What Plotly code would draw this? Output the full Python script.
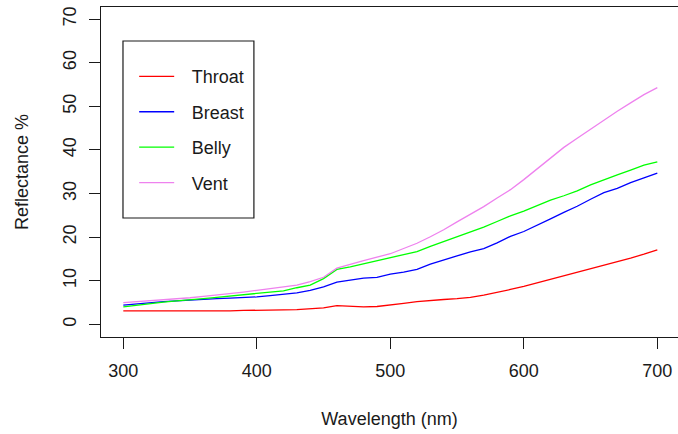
import plotly.graph_objects as go

wavelength = list(range(300, 701, 10))

throat = [3.1, 3.1, 3.1, 3.1, 3.0, 3.1, 3.1, 3.1, 3.1, 3.2, 3.2, 3.2, 3.3, 3.4, 3.6, 3.8,
          4.3, 4.2, 4.0, 4.1, 4.4, 4.8, 5.2, 5.5, 5.7, 5.9, 6.2, 6.7, 7.3, 8.0, 8.7, 9.5,
          10.3, 11.2, 12.0, 12.8, 13.5, 14.3, 15.2, 16.1, 17.1]
breast = [4.4, 4.7, 4.9, 5.2, 5.4, 5.6, 5.7, 5.9, 6.0, 6.1, 6.3, 6.6, 6.9, 7.2, 7.8, 8.6,
          9.7, 10.2, 10.6, 10.8, 11.5, 12.0, 12.6, 13.8, 14.8, 15.7, 16.6, 17.4, 18.7, 20.2,
          21.3, 22.7, 24.2, 25.7, 27.1, 28.7, 30.2, 31.2, 32.5, 33.6, 34.7]
belly = [4.0, 4.4, 4.8, 5.1, 5.4, 5.6, 5.9, 6.2, 6.5, 6.8, 7.1, 7.4, 7.7, 8.4, 9.0, 10.5,
         12.6, 13.2, 13.9, 14.5, 15.3, 16.0, 16.7, 17.9, 19.0, 20.2, 21.3, 22.3, 23.6, 24.9,
         26.0, 27.3, 28.5, 29.5, 30.6, 32.0, 33.2, 34.3, 35.4, 36.5, 37.3]
vent = [5.0, 5.2, 5.5, 5.7, 5.9, 6.1, 6.4, 6.7, 7.0, 7.4, 7.8, 8.2, 8.5, 9.0, 9.8, 10.8,
        12.9, 13.8, 14.6, 15.4, 16.2, 17.4, 18.6, 20.1, 21.7, 23.5, 25.2, 27.0, 29.0, 30.9,
        33.2, 35.6, 38.2, 40.6, 42.7, 44.8, 46.8, 48.9, 50.8, 52.7, 54.3]

series_names = ["Throat", "Breast", "Belly", "Vent"]
series_values = [throat, breast, belly, vent]
series_colors = ["#FF0000", "#0000FF", "#00FF00", "#EE82EE"]

x_ticks = [300, 400, 500, 600, 700]
y_ticks = [0, 10, 20, 30, 40, 50, 60, 70]

FONT = "Liberation Sans, Arial, sans-serif"
INK = "#1a1a1a"

fig = go.Figure()
for name, vals, col in zip(series_names, series_values, series_colors):
    fig.add_trace(go.Scatter(
        x=wavelength, y=vals, mode="lines", name="\u2002\u2009" + name,
        line=dict(color=col, width=1.3), legendgroup=name,
    ))

# legend frame (R-style boxed legend)
fig.add_shape(type="rect", xref="paper", yref="paper",
              x0=0.0381, x1=0.265, y0=0.3606, y1=0.897,
              line=dict(color=INK, width=1.2), fillcolor="rgba(0,0,0,0)", layer="above")

fig.update_layout(
    width=678, height=434,
    margin=dict(l=101, r=0, t=7, b=97),
    paper_bgcolor="white", plot_bgcolor="white",
    font=dict(family=FONT, size=18, color=INK),
    showlegend=True,
    legend=dict(
        x=0.0575, y=0.845, xanchor="left", yanchor="top",
        borderwidth=0, bgcolor="rgba(0,0,0,0)",
        font=dict(family=FONT, size=18, color=INK),
        tracegroupgap=9, itemwidth=35,
    ),
    xaxis=dict(
        range=[283.3, 715.5], tickvals=x_ticks, ticktext=[str(v) for v in x_ticks],
        showgrid=False, zeroline=False,
        showline=True, linecolor=INK, linewidth=1.3, mirror=True,
        ticks="outside", ticklen=11, tickcolor=INK, tickwidth=1.3,
        ticklabelstandoff=6,
        tickfont=dict(family=FONT, size=18, color=INK),
        title=dict(text="Wavelength (nm)", standoff=32, font=dict(family=FONT, size=18, color=INK)),
        automargin=False,
    ),
    yaxis=dict(
        range=[-2.9, 72.8], tickvals=y_ticks, ticktext=[str(v) for v in y_ticks],
        showgrid=False, zeroline=False,
        showline=True, linecolor=INK, linewidth=1.3,
        ticks="outside", ticklen=11, tickcolor=INK, tickwidth=1.3,
        tickangle=-90, ticklabelstandoff=6,
        tickfont=dict(family=FONT, size=18, color=INK),
        title=dict(text="Reflectance %", standoff=26, font=dict(family=FONT, size=18, color=INK)),
        automargin=False,
    ),
)

fig.write_html("out.html")
